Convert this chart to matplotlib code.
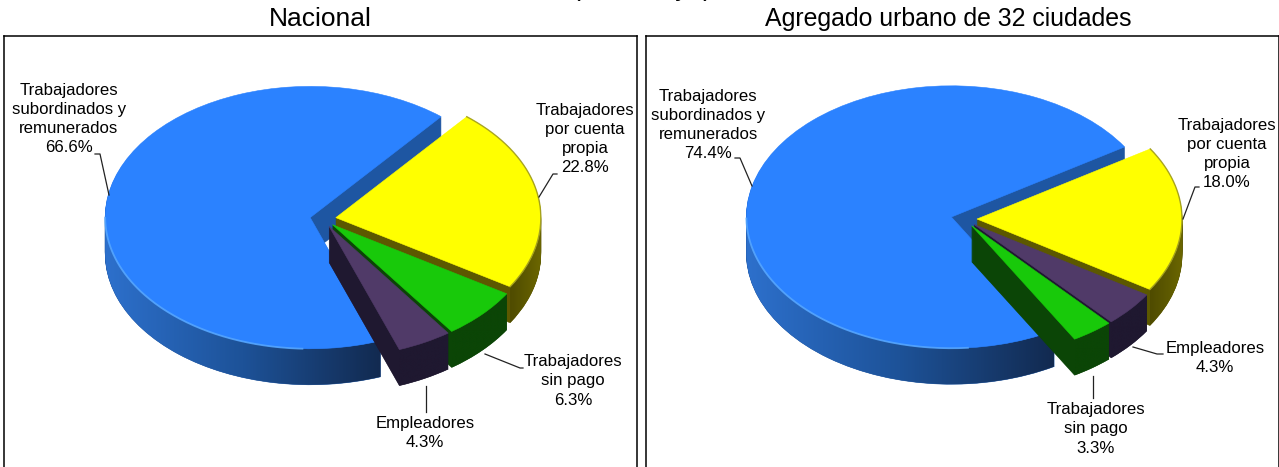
import numpy as np
import matplotlib
matplotlib.use('Agg')
import matplotlib.pyplot as plt
from matplotlib.colors import LinearSegmentedColormap
from matplotlib.patches import Polygon

plt.rcParams['font.family'] = ['Liberation Sans', 'DejaVu Sans']

W, H = 1279, 467
squash = 0.64
radius = 205
depth = 36

# slices go clockwise from the start angle
categories_nac = ['Trabajadores por cuenta propia', 'Trabajadores sin pago', 'Empleadores',
                  'Trabajadores subordinados y remunerados']
values_nac = [22.8, 6.3, 4.3, 66.6]
categories_urb = ['Trabajadores por cuenta propia', 'Empleadores', 'Trabajadores sin pago',
                  'Trabajadores subordinados y remunerados']
values_urb = [18.0, 4.3, 3.3, 74.4]

top_col = {'Trabajadores subordinados y remunerados': '#2b82ff', 'Trabajadores por cuenta propia': '#ffff00',
           'Trabajadores sin pago': '#18c90a', 'Empleadores': '#503a68'}
face_col = {'Trabajadores subordinados y remunerados': '#1e56a2', 'Trabajadores por cuenta propia': '#5c5800',
            'Trabajadores sin pago': '#0b4506', 'Empleadores': '#1f1830'}
side_col = {'Trabajadores subordinados y remunerados': ['#2d70cc', '#1d5298', '#122a50'],
            'Trabajadores por cuenta propia': ['#4f4b00', '#5c5800', '#6c6700'],
            'Trabajadores sin pago': ['#0b4506', '#0b4506'],
            'Empleadores': ['#1f1830', '#1f1830']}
rim_col = {'Trabajadores subordinados y remunerados': '#58a8ff', 'Trabajadores por cuenta propia': '#9a9620'}


def Y(py):
    return -py / squash


def draw_panel(x0, x1, cx, cy, start, categories, values, order):
    ax = fig.add_axes([x0 / W, 1 - 472 / H, (x1 - x0) / W, (472 - 36) / H])
    # stacked layers make the thickness of the pie
    for d in range(depth, -1, -1):
        cols = [top_col[c] if d == 0 else face_col[c] for c in categories]
        wedges, _ = ax.pie(values, colors=cols, radius=radius, center=(cx, Y(cy + d)), startangle=start,
                           counterclock=False, explode=[13] * len(values), normalize=True,
                           wedgeprops={'linewidth': 0.4})
        for i, w in enumerate(wedges):
            w.set_edgecolor(cols[i])
            w.set_zorder(10 * order[i] + (1 if d else 5) + (depth - d) * 0.01)
    # outer wall with a left to right shade, rim on top of it
    for i, w in enumerate(wedges):
        c = categories[i]
        th_all = np.radians(np.linspace(w.theta1, w.theta2, 400))
        th = th_all[np.sin(th_all) <= 0]
        ex = w.center[0] + radius * np.cos(th)
        ey = w.center[1] + radius * np.sin(th)
        pts = np.vstack([np.column_stack([ex, ey]),
                         np.column_stack([ex, ey - depth / squash])[::-1]])
        clip = Polygon(pts, transform=ax.transData)
        cmap = LinearSegmentedColormap.from_list('side', side_col[c])
        im = ax.imshow(np.linspace(0, 1, 256).reshape(1, -1), cmap=cmap, aspect='auto',
                       extent=(ex.min(), ex.max(), ey.min() - depth / squash - 2, ey.max() + 2),
                       zorder=10 * order[i] + 3)
        im.set_clip_path(clip)
        if c == 'Trabajadores subordinados y remunerados':
            keep = ex < ex.min() + 0.72 * (ex.max() - ex.min())
            ax.plot(ex[keep], ey[keep], color=rim_col[c], lw=1.3, alpha=0.85, zorder=10 * order[i] + 6)
        elif c in rim_col:
            ax.plot(w.center[0] + radius * np.cos(th_all), w.center[1] + radius * np.sin(th_all),
                    color=rim_col[c], lw=1.0, alpha=0.85, zorder=10 * order[i] + 6)
    ax.set_aspect('auto')
    ax.set_xlim(x0, x1)
    ax.set_ylim(Y(472), Y(36))
    ax.set_frame_on(True)
    ax.set_xticks([])
    ax.set_yticks([])
    for s in ax.spines.values():
        s.set_linewidth(1.1)
        s.set_color('black')
    return ax


def label(x, y, s):
    fig.text(x / W, 1 - y / H, s, ha='center', va='center', fontsize=12.1, linespacing=1.34, color='black')


def leader(ax, xs, ys):
    ax.plot(xs, [Y(v) for v in ys], color='#222222', lw=0.9, zorder=90)


fig = plt.figure(figsize=(W / 100, H / 100), dpi=100)

ax1 = draw_panel(4, 637, 323, 219, 50.3, categories_nac, values_nac, [1, 2, 3, 0])
ax2 = draw_panel(646, 1279, 964, 219, 32.3, categories_urb, values_urb, [1, 2, 3, 0])

leader(ax1, [95, 100, 109], [154, 154, 195])
leader(ax1, [557, 553, 539], [174, 174, 197])
leader(ax1, [523, 520, 485], [368, 368, 354])
leader(ax1, [426, 426], [386, 412])
leader(ax2, [735, 740, 752], [158, 158, 186])
leader(ax2, [1199, 1195, 1183], [187, 187, 219])
leader(ax2, [1163, 1157, 1133], [354, 354, 347])
leader(ax2, [1093, 1093], [376, 398])

label(69, 119, 'Trabajadores\nsubordinados y\nremunerados\n66.6%')
label(585, 139, 'Trabajadores\npor cuenta\npropia\n22.8%')
label(573, 381, 'Trabajadores\nsin pago\n6.3%')
label(425, 433, 'Empleadores\n4.3%')
label(708, 125, 'Trabajadores\nsubordinados y\nremunerados\n74.4%')
label(1227, 154, 'Trabajadores\npor cuenta\npropia\n18.0%')
label(1215, 358, 'Empleadores\n4.3%')
label(1096, 429, 'Trabajadores\nsin pago\n3.3%')

fig.text(320 / W, 1 - 26 / H, 'Nacional', ha='center', va='baseline', fontsize=19)
fig.text(948 / W, 1 - 26 / H, 'Agregado urbano de 32 ciudades', ha='center', va='baseline', fontsize=17.9)
# title line above is cut by the top of the picture
fig.text(642 / W, 1 + 4 / H, '(abril-mayo)', ha='center', va='baseline', fontsize=19)

fig.savefig('out.png', dpi=100)
